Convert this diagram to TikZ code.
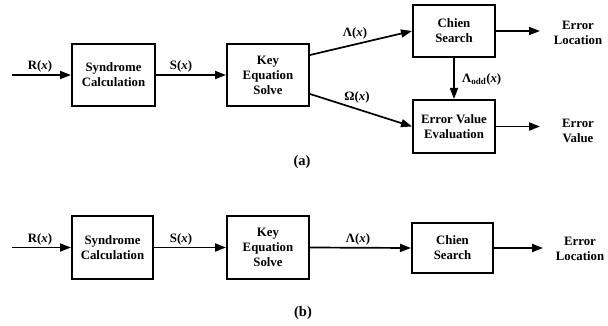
\documentclass[tikz,border=0pt]{standalone}
\usepackage{fontspec}
\setmainfont{Liberation Serif}
\usetikzlibrary{arrows.meta,calc}
\begin{document}
\begin{tikzpicture}[x=1pt,y=-1pt,
  blk/.style={draw,line width=2pt,align=center,inner sep=0pt,font=\fontsize{12.8}{15}\selectfont\bfseries},
  lbl/.style={align=center,inner sep=0pt,font=\fontsize{12.8}{15}\selectfont\bfseries},
  captxt/.style={inner sep=0pt,font=\fontsize{14.5}{17}\selectfont\bfseries},
  arr/.style={line width=1.7pt,-{Triangle[length=11pt,width=8pt]}}]
\useasboundingbox (0,0) rectangle (608,326);
% (a)
\node[blk,minimum width=83pt,minimum height=62pt] (sa) at (113.5,75) {Syndrome\\Calculation};
\node[blk,minimum width=82pt,minimum height=62pt] (ka) at (268,75) {Key\\Equation\\Solve};
\node[blk,minimum width=82pt,minimum height=52pt] (ca) at (454,31) {Chien\\Search};
\node[blk,minimum width=82pt,minimum height=53pt] (ea) at (454,126.5) {Error Value\\Evaluation};
\coordinate (ra) at (12,75);
\coordinate (ola) at (540,31);
\coordinate (ova) at (540,126.5);
\coordinate (kla) at ($(ka.east)+(0,-20)$);
\coordinate (koa) at ($(ka.east)+(0,19)$);
\node[lbl] (tla) at (578,32.5) {Error\\Location};
\node[lbl] (tva) at (578,131) {Error\\Value};
\draw[arr] (ra) -- (sa.west);
\draw[arr] (sa.east) -- (ka.west);
\draw[arr] (kla) -- (ca.west);
\draw[arr] (koa) -- (ea.west);
\draw[arr] (ca.south) -- (ea.north);
\draw[arr] (ca.east) -- (ola);
\draw[arr] (ea.east) -- (ova);
\node[lbl] (lra) at (40,66) {R(\textit{x})};
\node[lbl] (lsa) at (181,66) {S(\textit{x})};
\node[lbl] (lla) at (355,33) {Λ(\textit{x})};
\node[lbl] (loa) at (357,97) {Ω(\textit{x})};
\node[lbl,anchor=west] (lda) at (462,79) {Λ\textsubscript{odd}(\textit{x})};
\node[captxt] (capa) at (302,162) {(a)};
% (b)
\node[blk,minimum width=81pt,minimum height=63pt] (sb) at (112.5,247.5) {Syndrome\\Calculation};
\node[blk,minimum width=82pt,minimum height=63pt] (kb) at (268,247.5) {Key\\Equation\\Solve};
\node[blk,minimum width=81pt,minimum height=50pt] (cb) at (452.5,248) {Chien\\Search};
\coordinate (rb) at (12,247.5);
\coordinate (olb) at (543,248);
\node[lbl] (tlb) at (580,249) {Error\\Location};
\draw[arr] (rb) -- (sb.west);
\draw[arr] (sb.east) -- (kb.west);
\draw[arr] (kb.east) -- (cb.west);
\draw[arr] (cb.east) -- (olb);
\node[lbl] (lrb) at (40,239) {R(\textit{x})};
\node[lbl] (lsb) at (181,239) {S(\textit{x})};
\node[lbl] (llb) at (358,239) {Λ(\textit{x})};
\node[captxt] (capb) at (303,313) {(b)};
\end{tikzpicture}
\end{document}
